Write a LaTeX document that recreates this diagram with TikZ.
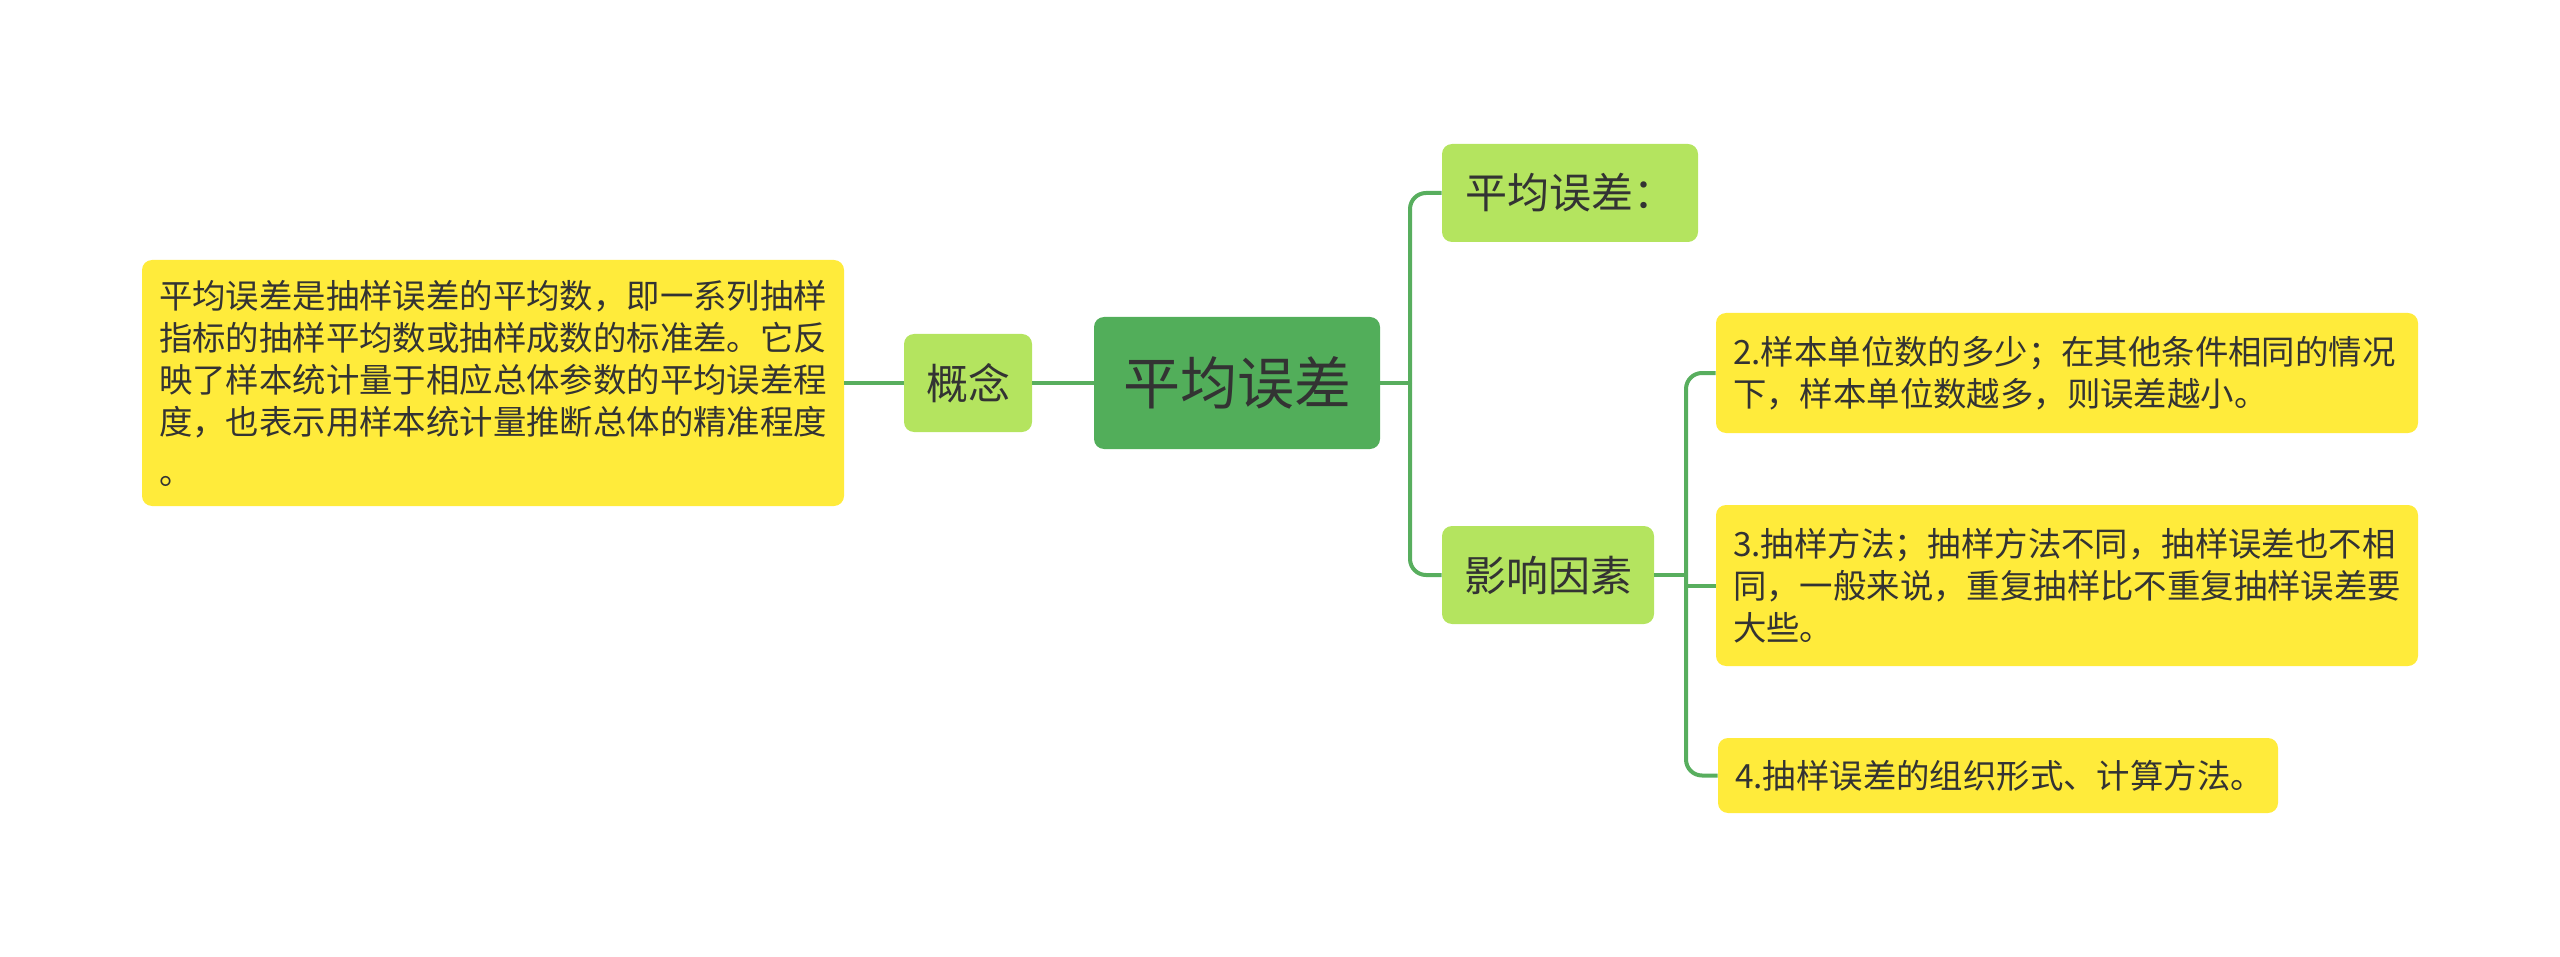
\documentclass[tikz,border=0pt]{standalone}
\usepackage{fontspec}
\setmainfont{Noto Sans CJK SC}
\definecolor{rootg}{HTML}{52AE5A}
\definecolor{lightg}{HTML}{B4E45F}
\definecolor{yel}{HTML}{FFEB3B}
\definecolor{linec}{HTML}{58AE5E}
\definecolor{txt}{HTML}{333333}
\tikzset{
  box/.style={rounded corners=5pt, inner sep=0pt, text=txt, align=center},
  rootbox/.style={box, fill=rootg, minimum width=143pt, minimum height=66pt, font=\fontsize{28.5pt}{34pt}\selectfont},
  subbox/.style={box, fill=lightg, minimum height=49pt, font=\fontsize{21pt}{26pt}\selectfont},
  leafbox/.style={box, fill=yel, align=left, inner xsep=8.5pt, inner ysep=0pt, font=\fontsize{16.7pt}{21pt}\selectfont},
  conn/.style={draw=linec, line width=2pt, rounded corners=8pt},
}
\begin{document}
\begin{tikzpicture}[x=0.5pt, y=-0.5pt]
\useasboundingbox (0,0) rectangle (2560,957);
\node[rootbox] (root) at (1237,383) {平均误差};
\node[subbox, minimum width=64pt] (gn) at (968,383) {概念};
\node[subbox, minimum width=128pt] (avg) at (1570,193) {平均误差：};
\node[subbox, minimum width=106pt] (yx) at (1548,575) {影响因素};
\node[leafbox, text width=334pt, minimum height=123pt] (def) at (493,383) {平均误差是抽样误差的平均数，即一系列抽样\\指标的抽样平均数或抽样成数的标准差。它反\\映了样本统计量于相应总体参数的平均误差程\\度，也表示用样本统计量推断总体的精准程度\\[4pt]。};
\node[leafbox, text width=334pt, minimum height=60pt] (f2) at (2067,373) {2.样本单位数的多少；在其他条件相同的情况\\下，样本单位数越多，则误差越小。};
\node[leafbox, text width=334pt, minimum height=80.5pt] (f3) at (2067,585.5) {3.抽样方法；抽样方法不同，抽样误差也不相\\同，一般来说，重复抽样比不重复抽样误差要\\大些。};
\node[leafbox, text width=263pt, minimum height=37.5pt] (f4) at (1998,775.5) {4.抽样误差的组织形式、计算方法。};
\coordinate (j1) at (1410,383);
\coordinate (j2) at (1686,575);
\draw[conn] (root.east) -- (j1);
\draw[conn] (j1) |- (avg.west);
\draw[conn] (j1) |- (yx.west);
\draw[conn] (root.west) -- (gn.east);
\draw[conn] (gn.west) -- (def.east);
\draw[conn] (yx.east) -- (j2);
\draw[conn] (j2) |- (f2.west);
\draw[conn] (j2) |- (f4.west);
\draw[conn] (j2 |- f3.west) -- (f3.west);
\end{tikzpicture}
\end{document}
